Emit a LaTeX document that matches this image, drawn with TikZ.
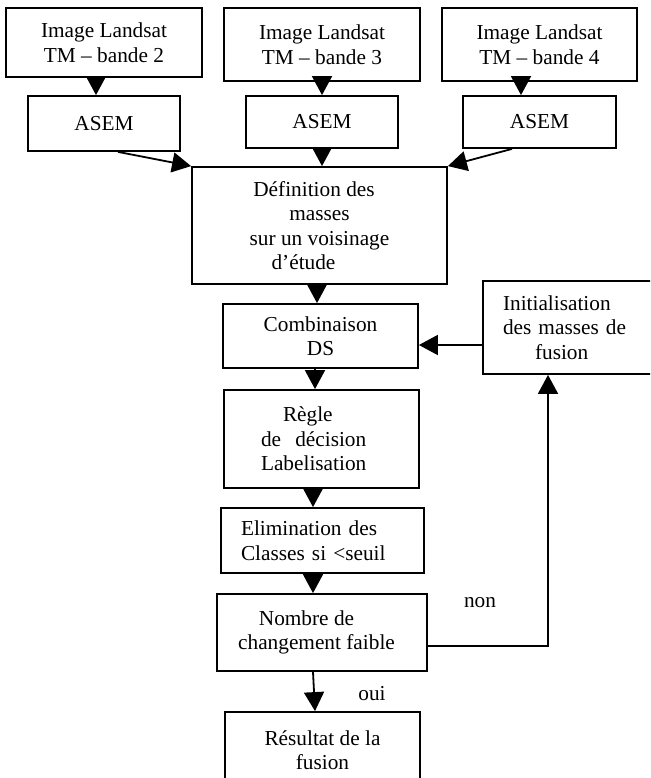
\documentclass[tikz,border=0pt]{standalone}
\usepackage{fontspec}
\setmainfont{Liberation Serif}
\usetikzlibrary{arrows.meta}

\begin{document}
\begin{tikzpicture}[x=1pt,y=-1pt,
    box/.style={draw,line width=1.8pt,inner sep=0pt,align=center},
    arr/.style={line width=1.8pt,-{Triangle[length=19pt,width=20pt]}},
    font=\fontsize{21.3}{24.5}\selectfont]
  \useasboundingbox (0,0) rectangle (650,778);
  \clip (0,0) rectangle (650,778);
  % images and ASEM
  \node[box,minimum width=196pt,minimum height=69pt] (img1) at (104,42.5) {Image Landsat\\TM – bande 2};
  \node[box,minimum width=196pt,minimum height=73pt] (img2) at (322,44.5) {Image Landsat\\TM – bande 3};
  \node[box,minimum width=195pt,minimum height=73pt] (img3) at (539.5,44.5) {Image Landsat\\TM – bande 4};
  \node[box,minimum width=152pt,minimum height=55pt] (asem1) at (104,123.5) {ASEM};
  \node[box,minimum width=152pt,minimum height=52pt] (asem2) at (322,122) {ASEM};
  \node[box,minimum width=153pt,minimum height=52pt] (asem3) at (539.5,122) {ASEM};
  % main column
  \node[box,minimum width=255pt,minimum height=117pt] (def) at (319.5,225.5)
    {Définition des\hspace*{11pt}\\masses\hspace*{24pt}\\sur un voisinage\hspace*{8pt}\\d’étude\hspace*{32pt}};
  \node[box,minimum width=195pt,minimum height=64pt] (comb) at (320.5,336) {Combinaison\\DS};
  \node[box,minimum width=177pt,minimum height=93pt,text width=137pt,align=left] (init) at (571.5,327.5)
    {Initialisation\\des masses de\\\hspace*{32pt}fusion};
  \node[box,minimum width=195pt,minimum height=98pt,text width=121pt,align=left] (regle) at (321.5,439)
    {\hspace*{22pt}Règle\\de~ décision\\Labelisation};
  \node[box,minimum width=203pt,minimum height=65pt,text width=163pt,align=left] (elim) at (322.5,540.5)
    {Elimination des\\Classes si <seuil};
  \node[box,minimum width=210pt,minimum height=77pt] (nombre) at (322,632.5)
    {Nombre de\hspace*{31pt}\\changement faible\hspace*{11pt}};
  \node[box,minimum width=195pt,minimum height=76pt] (result) at (322.5,750) {Résultat de la\\fusion};
  \node (non) at (480,603) {non};
  \node (oui) at (372,694) {oui};
  \coordinate (back) at (483,345);
  \coordinate (turn) at (548,646);
  % connectors
  \draw[arr] ([xshift=-8pt]img1.south) -- ([xshift=-8pt]asem1.north);
  \draw[arr] (img2.south) -- (asem2.north);
  \draw[arr] ([xshift=-18.5pt]img3.south) -- ([xshift=-18.5pt]asem3.north);
  \draw[arr] ([xshift=14pt]asem1.south) -- (def.north west);
  \draw[arr] (asem2.south) -- (asem2.south |- def.north);
  \draw[arr] ([xshift=-27.5pt]asem3.south) -- (def.north east);
  \draw[arr] ([xshift=-2.5pt]def.south) -- ([xshift=-3.5pt]comb.north);
  \draw[arr] ([xshift=-5.5pt]comb.south) -- ([xshift=-6.5pt]regle.north);
  \draw[arr] ([xshift=-8.5pt]regle.south) -- ([xshift=-9.5pt]elim.north);
  \draw[arr] ([xshift=-9.5pt]elim.south) -- ([xshift=-9pt]nombre.north);
  \draw[arr] ([xshift=-9pt]nombre.south) -- ([xshift=-7.5pt]result.north);
  \draw[arr] (init.west |- back) -- (comb.east |- back);
  \draw[arr] (nombre.east |- turn) -- (turn) -- (turn |- init.south);
\end{tikzpicture}
\end{document}
